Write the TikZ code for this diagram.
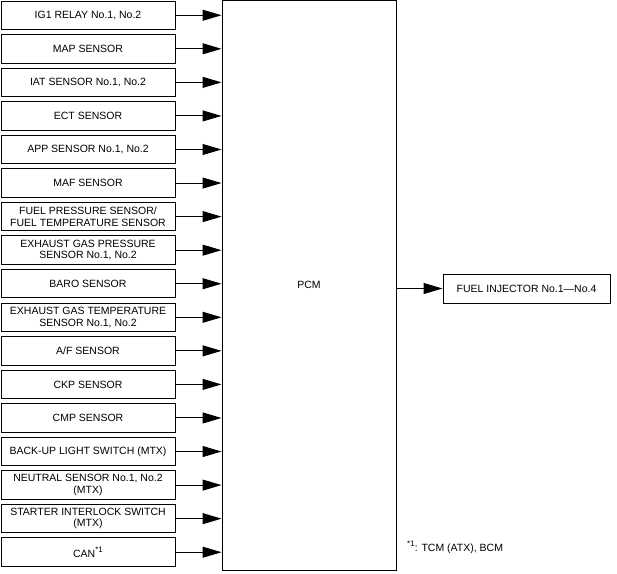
\documentclass[tikz,border=0pt]{standalone}
\usepackage{fontspec}
\setmainfont{Liberation Sans}
\usetikzlibrary{arrows.meta}
\newcommand{\noteref}[1]{\raisebox{0.9ex}{\fontsize{8}{8}\selectfont #1}}
\tikzset{
  inbox/.style={draw, line width=1pt, minimum width=174pt, minimum height=28.5pt,
    inner sep=0pt, align=center, font=\fontsize{10.5}{11.5}\selectfont},
  sig/.style={-{Triangle[length=19pt,width=11pt]}, line width=1pt}
}
\begin{document}
\begin{tikzpicture}[x=1pt,y=-1pt]
  \useasboundingbox (0,0) rectangle (617,573);
  \node[draw, line width=1pt, minimum width=174pt, minimum height=569.5pt, inner sep=0pt,
    font=\fontsize{10.5}{11.5}\selectfont] (pcm) at (309,285.25) {PCM};
  \foreach \txt [count=\i] in {
      {IG1 RELAY No.1, No.2},
      {MAP SENSOR},
      {IAT SENSOR No.1, No.2},
      {ECT SENSOR},
      {APP SENSOR No.1, No.2},
      {MAF SENSOR},
      {FUEL PRESSURE SENSOR/\\FUEL TEMPERATURE SENSOR},
      {EXHAUST GAS PRESSURE\\SENSOR No.1, No.2},
      {BARO SENSOR},
      {EXHAUST GAS TEMPERATURE\\SENSOR No.1, No.2},
      {A/F SENSOR},
      {CKP SENSOR},
      {CMP SENSOR},
      {BACK-UP LIGHT SWITCH (MTX)},
      {NEUTRAL SENSOR No.1, No.2\\(MTX)},
      {STARTER INTERLOCK SWITCH\\(MTX)},
      {CAN\noteref{*1}}} {
    \node[inbox] (in\i) at (88,{15.25+33.56*(\i-1)}) {\txt};
    \draw[sig] (in\i.east) -- (pcm.west |- in\i.east);
  }
  \node[inbox, minimum width=167pt, minimum height=29pt] (inj) at (526.5,288.5)
    {FUEL INJECTOR No.1---No.4};
  \draw[sig] (pcm.east |- inj.west) -- (inj.west);
  \node[anchor=west, inner sep=0pt, font=\fontsize{10.5}{11.5}\selectfont] (note) at (407,547)
    {\noteref{*1}: TCM (ATX), BCM};
\end{tikzpicture}
\end{document}
